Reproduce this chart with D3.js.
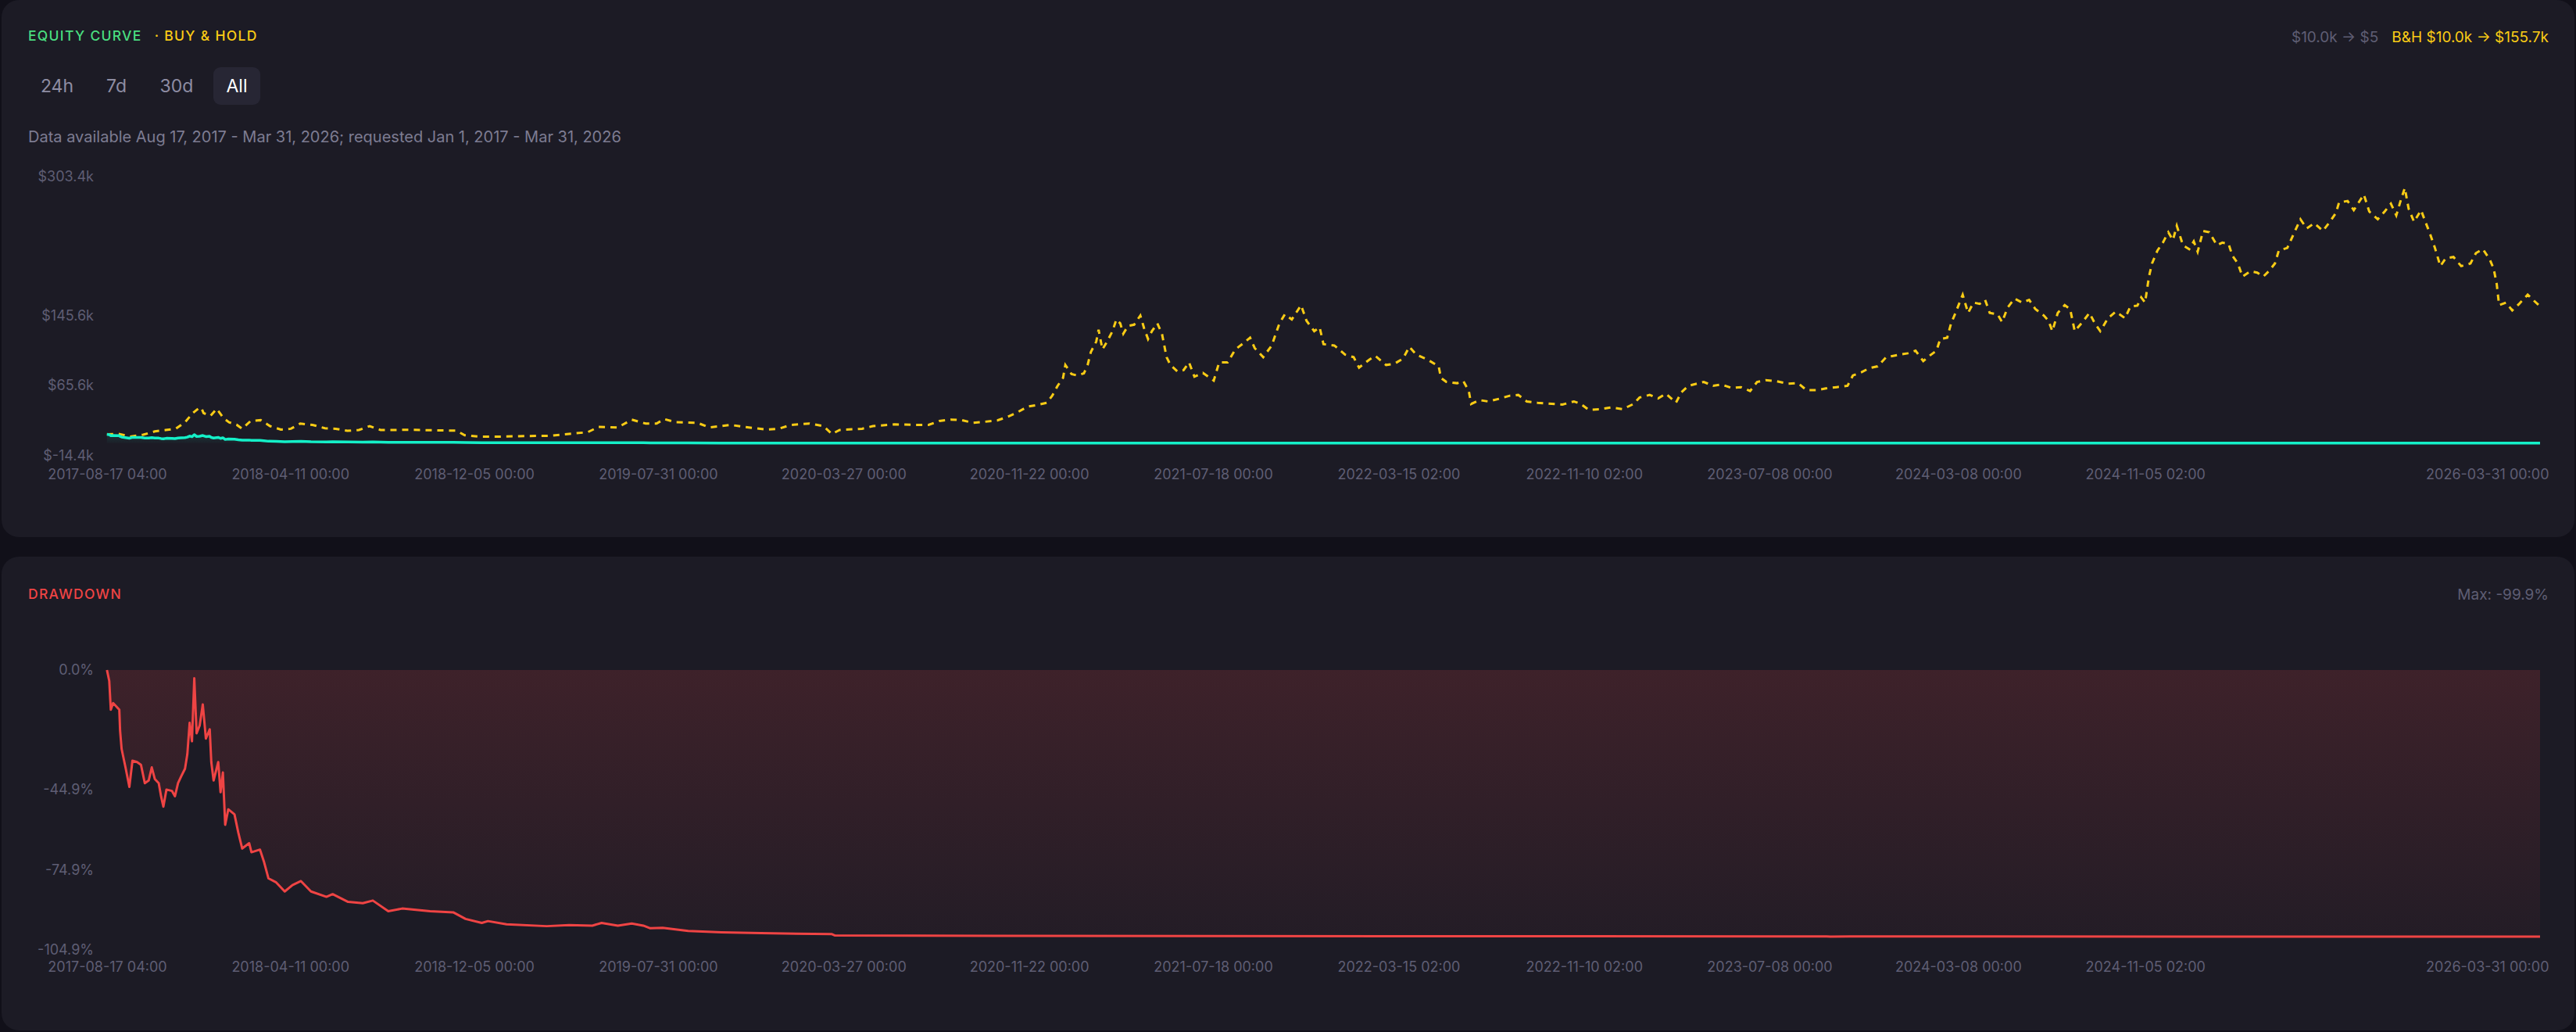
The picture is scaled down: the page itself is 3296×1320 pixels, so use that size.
<!DOCTYPE html>
<html>
<head>
<meta charset="utf-8">
<script src="https://cdn.jsdelivr.net/npm/d3@7"></script>
<style>
  html, body { margin: 0; padding: 0; background: #111019; }
  svg { display: block; font-family: "Inter", "Noto Sans", sans-serif; }
</style>
</head>
<body>
<svg id="chart"></svg>
<script>
const eqDates = ["2017-08-17","2017-08-20","2017-08-22","2017-08-25","2017-09-02","2017-09-03","2017-09-05","2017-09-10","2017-09-15","2017-09-19","2017-09-25","2017-09-30","2017-10-05","2017-10-10","2017-10-14","2017-10-18","2017-10-23","2017-10-26","2017-10-29","2017-11-02","2017-11-09","2017-11-13","2017-11-17","2017-11-21","2017-11-26","2017-11-29","2017-12-02","2017-12-05","2017-12-08","2017-12-11","2017-12-15","2017-12-19","2017-12-23","2017-12-28","2017-12-30","2018-01-02","2018-01-08","2018-01-11","2018-01-14","2018-01-17","2018-01-21","2018-01-29","2018-02-03","2018-02-08","2018-02-17","2018-02-20","2018-03-03","2018-03-08","2018-03-14","2018-03-24","2018-04-04","2018-04-14","2018-04-25","2018-05-08","2018-05-28","2018-06-05","2018-06-25","2018-07-14","2018-07-27","2018-08-16","2018-09-03","2018-10-09","2018-11-08","2018-11-24","2018-12-15","2018-12-23","2019-01-16","2019-03-09","2019-04-07","2019-05-07","2019-05-19","2019-06-09","2019-06-27","2019-07-12","2019-07-21","2019-08-06","2019-09-08","2019-10-21","2019-12-11","2020-03-12","2020-03-16","2020-10-16","2021-06-24","2022-10-14","2023-09-20","2023-09-25","2023-10-20","2024-04-23","2025-02-18","2026-03-31"];
const eqValues = [10000,9590,8510,8760,8510,7730,7040,6350,5620,6600,6550,6450,5760,5860,6350,5910,5760,5270,4880,5520,5470,5270,5760,6010,6300,6840,8020,7330,9690,7630,7920,8710,7430,7780,6550,5860,6550,5420,6160,4200,4780,4590,3900,3310,3510,3170,3270,2830,2190,2040,1700,1940,2090,1700,1500,1600,1310,1260,1360,960,1060,960,920,670,520,590,470,400,440,420,520,420,500,420,320,340,220,170,140,100,50,40,30,20,18,11,17,13,7,5];

// buy & hold in $
const bhDates = ["2017-08-17","2017-09-01","2017-09-16","2017-10-03","2017-10-18","2017-11-01","2017-11-14","2017-11-26","2017-12-06","2017-12-13","2017-12-17","2017-12-20","2017-12-29","2018-01-06","2018-01-15","2018-01-22","2018-02-01","2018-02-08","2018-02-19","2018-03-04","2018-03-16","2018-03-30","2018-04-12","2018-04-24","2018-05-10","2018-05-26","2018-06-09","2018-06-24","2018-07-09","2018-07-23","2018-08-06","2018-08-22","2018-09-09","2018-09-27","2018-10-15","2018-11-12","2018-11-23","2018-12-10","2019-01-08","2019-02-12","2019-03-12","2019-04-14","2019-05-01","2019-05-15","2019-06-09","2019-06-27","2019-07-15","2019-07-29","2019-08-08","2019-08-23","2019-09-20","2019-10-05","2019-11-02","2019-11-19","2019-12-18","2020-01-03","2020-01-19","2020-02-12","2020-03-01","2020-03-12","2020-03-22","2020-04-20","2020-05-04","2020-06-01","2020-06-30","2020-07-15","2020-07-29","2020-08-13","2020-08-27","2020-09-10","2020-09-26","2020-10-12","2020-10-26","2020-11-07","2020-11-20","2020-11-30","2020-12-15","2020-12-22","2020-12-29","2021-01-05","2021-01-08","2021-01-16","2021-01-23","2021-02-01","2021-02-06","2021-02-10","2021-02-17","2021-02-20","2021-02-25","2021-03-03","2021-03-10","2021-03-15","2021-03-20","2021-03-24","2021-03-30","2021-04-07","2021-04-15","2021-04-20","2021-04-25","2021-04-30","2021-05-07","2021-05-13","2021-05-19","2021-05-24","2021-06-02","2021-06-10","2021-06-17","2021-06-24","2021-07-05","2021-07-19","2021-07-26","2021-08-06","2021-08-16","2021-08-27","2021-09-04","2021-09-10","2021-09-21","2021-10-02","2021-10-12","2021-10-19","2021-10-28","2021-11-09","2021-11-16","2021-11-26","2021-12-03","2021-12-08","2021-12-22","2022-01-05","2022-01-16","2022-01-23","2022-02-05","2022-02-13","2022-02-27","2022-03-10","2022-03-21","2022-03-29","2022-04-07","2022-04-22","2022-05-06","2022-05-09","2022-05-16","2022-05-30","2022-06-07","2022-06-14","2022-06-17","2022-06-28","2022-07-09","2022-07-23","2022-08-06","2022-08-17","2022-08-28","2022-09-11","2022-09-25","2022-10-13","2022-10-28","2022-11-06","2022-11-16","2022-12-01","2022-12-15","2022-12-30","2023-01-13","2023-01-21","2023-02-03","2023-02-14","2023-02-24","2023-03-09","2023-03-16","2023-03-25","2023-04-14","2023-04-26","2023-05-07","2023-05-20","2023-06-01","2023-06-13","2023-06-22","2023-07-03","2023-07-17","2023-07-31","2023-08-14","2023-08-25","2023-09-07","2023-09-19","2023-10-03","2023-10-17","2023-10-24","2023-11-04","2023-11-14","2023-11-25","2023-12-06","2023-12-15","2023-12-23","2024-01-03","2024-01-13","2024-01-23","2024-01-31","2024-02-09","2024-02-14","2024-02-23","2024-02-28","2024-03-04","2024-03-10","2024-03-14","2024-03-21","2024-03-28","2024-04-05","2024-04-12","2024-04-18","2024-04-28","2024-05-04","2024-05-11","2024-05-20","2024-05-30","2024-06-08","2024-06-16","2024-06-27","2024-07-03","2024-07-08","2024-07-15","2024-07-24","2024-07-31","2024-08-06","2024-08-16","2024-08-25","2024-09-01","2024-09-08","2024-09-18","2024-09-28","2024-10-10","2024-10-17","2024-10-26","2024-10-31","2024-11-05","2024-11-10","2024-11-14","2024-11-21","2024-11-28","2024-12-05","2024-12-11","2024-12-16","2024-12-24","2025-01-01","2025-01-07","2025-01-12","2025-01-19","2025-01-27","2025-02-06","2025-02-13","2025-02-21","2025-02-26","2025-03-05","2025-03-11","2025-03-21","2025-03-30","2025-04-07","2025-04-14","2025-04-22","2025-04-27","2025-05-08","2025-05-18","2025-05-25","2025-06-02","2025-06-12","2025-06-23","2025-07-02","2025-07-10","2025-07-14","2025-07-25","2025-08-02","2025-08-15","2025-08-22","2025-09-02","2025-09-11","2025-09-19","2025-09-26","2025-10-02","2025-10-07","2025-10-12","2025-10-19","2025-10-28","2025-11-04","2025-11-08","2025-11-15","2025-11-22","2025-11-29","2025-12-09","2025-12-19","2025-12-31","2026-01-07","2026-01-16","2026-01-25","2026-01-30","2026-02-03","2026-02-06","2026-02-15","2026-02-23","2026-03-04","2026-03-15","2026-03-22","2026-03-31"];
const bhValues = [10000,10500,7500,9600,13400,15000,16400,23800,34200,39200,40500,34200,31200,39200,28300,23800,20800,16400,25300,26200,19400,15500,16400,22300,20800,17000,16400,14000,15000,19400,15000,15000,15200,15000,14600,14300,9000,7500,7500,8100,8400,11100,12500,18500,17900,26800,22300,22300,27400,23800,23200,17900,20800,18500,15500,16400,20800,22300,19400,10500,15000,16400,19400,21400,20800,20800,25300,26800,26200,23200,24400,25900,30300,35100,41600,43100,46000,54000,65300,74200,89000,78600,77100,79500,89600,103800,115700,129000,106800,115700,127500,140800,136400,124600,133400,134900,145300,130500,118600,127500,136400,124600,97900,89000,81600,83100,92000,75700,80000,71200,92000,92000,106800,114200,120100,108300,97900,111200,136400,146800,140800,157100,139400,127500,132000,112700,111200,100800,97900,86000,94900,99400,89000,90500,96400,109700,100800,94900,87500,74200,69700,68300,70600,59400,44600,49000,47500,50500,54000,54900,47500,46000,45100,43900,47500,44600,38000,38600,40700,38600,44600,52000,54900,51000,56400,46000,57900,65300,69700,65300,66800,62900,63800,59400,69700,71800,70600,67700,68300,60300,60300,62300,63800,65300,77100,80700,85400,87500,97900,99400,100800,102300,105300,93400,99400,105300,118600,120100,136400,146800,160100,169000,148300,160100,158600,163100,148300,146800,137900,154200,164600,160100,163100,152700,145300,139400,127500,148300,157100,152700,127500,137900,148300,136400,127500,142300,149700,142300,155700,156600,166000,160100,189700,204600,219400,228300,240100,231200,247500,225300,220900,229700,217900,241600,240100,225300,228300,226800,213400,204600,189700,195700,194200,189700,195700,204600,219400,222300,241600,254900,244500,250500,241600,252000,262300,274200,275700,265300,283100,263800,254900,263800,272700,259400,277100,290500,266800,252000,265300,249000,240100,222300,201600,210500,212000,201600,204600,216400,220900,209000,198600,180800,157100,160100,151200,158600,169000,163100,155700];

// axis labels
const timeTicks = ["2017-08-17 04:00","2018-04-11 00:00","2018-12-05 00:00","2019-07-31 00:00","2020-03-27 00:00","2020-11-22 00:00","2021-07-18 00:00","2022-03-15 02:00","2022-11-10 02:00","2023-07-08 00:00","2024-03-08 00:00","2024-11-05 02:00","2026-03-31 00:00"];
const equityTicks = [-14400, 65600, 145600, 303400];
const drawdownTicks = [0, -44.9, -74.9, -104.9];
const rangeButtons = ["24h", "7d", "30d", "All"];

const W = 3296, H = 1320;
const C = {
  panel: "#1c1b25", text: "#5f5e74", sub: "#7d7c92",
  green: "#4ade80", yellow: "#facc15", teal: "#14f0c8", red: "#ef4444"
};

const parseDay = d3.timeParse("%Y-%m-%d");
const parseTick = d3.timeParse("%Y-%m-%d %H:%M");
const fmtTick = d3.timeFormat("%Y-%m-%d %H:%M");
const fmtMoney = v => v >= 1000 ? "$" + (v / 1000).toFixed(1) + "k" : "$" + Math.round(v);

const equity = eqDates.map((d, i) => ({ date: parseDay(d), value: eqValues[i] }));
const bh = bhDates.map((d, i) => ({ date: parseDay(d), value: bhValues[i] }));

// drawdown from running peak of the equity curve
let peak = -Infinity;
const drawdown = equity.map(d => {
  peak = Math.max(peak, d.value);
  return { date: d.date, value: (d.value / peak - 1) * 100 };
});

const svg = d3.select("#chart").attr("width", W).attr("height", H);

// panels
svg.append("rect").attr("x", 2).attr("y", 0).attr("width", 3292).attr("height", 687)
  .attr("rx", 22).attr("fill", C.panel);
svg.append("rect").attr("x", 2).attr("y", 712).attr("width", 3292).attr("height", 606)
  .attr("rx", 22).attr("fill", C.panel);

const tickDates = timeTicks.map(parseTick);
const x = d3.scaleTime()
  .domain([tickDates[0], tickDates[tickDates.length - 1]])
  .range([137, 3250]);

function xAxis(yPos) {
  const g = svg.append("g")
    .attr("transform", `translate(0,${yPos})`)
    .call(d3.axisBottom(x).tickValues(tickDates).tickFormat(fmtTick).tickSize(0).tickPadding(0));
  g.select(".domain").remove();
  g.selectAll("text")
    .attr("y", 0).attr("dy", "0.35em")
    .attr("fill", C.text).attr("font-size", 18).attr("font-family", "Inter");
  // last label is pulled inside the panel
  g.selectAll(".tick").filter((d, i) => i === tickDates.length - 1)
    .select("text").attr("text-anchor", "end").attr("dx", 11);
}

function yAxis(scale, ticks, fmt) {
  const g = svg.append("g")
    .attr("transform", "translate(120,0)")
    .call(d3.axisLeft(scale).tickValues(ticks).tickFormat(fmt).tickSize(0).tickPadding(0));
  g.select(".domain").remove();
  g.selectAll("text").attr("fill", C.text).attr("font-size", 18).attr("font-family", "Inter");
}

// ---------- header of equity panel ----------
const title = svg.append("text").attr("x", 36).attr("y", 46).attr("dy", "0.35em")
  .attr("font-size", 17.5).attr("letter-spacing", 1.3).attr("font-weight", 500);
title.append("tspan").attr("fill", C.green).text("EQUITY CURVE");
title.append("tspan").attr("fill", C.yellow).attr("dx", 16).text("· BUY & HOLD");

const summary = svg.append("text").attr("x", 3261).attr("y", 47).attr("dy", "0.35em")
  .attr("text-anchor", "end").attr("font-size", 19);
summary.append("tspan").attr("fill", C.text)
  .text(`${fmtMoney(eqValues[0])} → ${fmtMoney(eqValues[eqValues.length - 1])}`);
summary.append("tspan").attr("fill", C.yellow).attr("dx", 17)
  .text(`B&H ${fmtMoney(bhValues[0])} → ${fmtMoney(bhValues[bhValues.length - 1])}`);

const btnX = [73, 149, 226, 303];
rangeButtons.forEach((b, i) => {
  if (b === "All") {
    svg.append("rect").attr("x", btnX[i] - 30).attr("y", 86).attr("width", 60).attr("height", 48)
      .attr("rx", 9).attr("fill", "#272634");
  }
  svg.append("text").attr("x", btnX[i]).attr("y", 110).attr("dy", "0.35em")
    .attr("text-anchor", "middle").attr("font-size", 23)
    .attr("fill", b === "All" ? "#ffffff" : "#8e8da3").text(b);
});

svg.append("text").attr("x", 36).attr("y", 175).attr("dy", "0.35em")
  .attr("font-size", 20).attr("fill", C.sub)
  .text("Data available Aug 17, 2017 - Mar 31, 2026; requested Jan 1, 2017 - Mar 31, 2026");

// ---------- equity chart ----------
const y1 = d3.scaleLinear().domain([equityTicks[0], equityTicks[3]]).range([583, 226]);

yAxis(y1, equityTicks, v => "$" + (v / 1000).toFixed(1) + "k");
xAxis(607);

const defs = svg.append("defs");
const tg = defs.append("linearGradient").attr("id", "tealFill")
  .attr("x1", 0).attr("x2", 0).attr("y1", 0).attr("y2", 1);
tg.append("stop").attr("offset", "0%").attr("stop-color", C.teal).attr("stop-opacity", 0.12);
tg.append("stop").attr("offset", "100%").attr("stop-color", C.teal).attr("stop-opacity", 0.02);

svg.append("path").datum(equity)
  .attr("fill", "url(#tealFill)")
  .attr("d", d3.area().x(d => x(d.date)).y0(y1(0)).y1(d => y1(d.value)));

svg.append("path").datum(bh)
  .attr("fill", "none").attr("stroke", C.yellow).attr("stroke-width", 3)
  .attr("stroke-dasharray", "8 7")
  .attr("d", d3.line().x(d => x(d.date)).y(d => y1(d.value)));

svg.append("path").datum(equity)
  .attr("fill", "none").attr("stroke", C.teal).attr("stroke-width", 3.5)
  .attr("stroke-linejoin", "round")
  .attr("d", d3.line().x(d => x(d.date)).y(d => y1(d.value)));

// ---------- drawdown panel ----------
svg.append("text").attr("x", 36).attr("y", 760).attr("dy", "0.35em")
  .attr("font-size", 17.5).attr("letter-spacing", 1.3).attr("font-weight", 500)
  .attr("fill", C.red).text("DRAWDOWN");

const maxDD = d3.min(drawdown, d => d.value);
svg.append("text").attr("x", 3261).attr("y", 760).attr("dy", "0.35em")
  .attr("text-anchor", "end").attr("font-size", 19).attr("fill", C.text)
  .text(`Max: ${(Math.trunc(maxDD * 10) / 10).toFixed(1)}%`);

const y2 = d3.scaleLinear().domain([drawdownTicks[3], 0]).range([1215, 857]);

yAxis(y2, drawdownTicks, v => v.toFixed(1) + "%");
xAxis(1237);

const rg = defs.append("linearGradient").attr("id", "redFill")
  .attr("gradientUnits", "userSpaceOnUse")
  .attr("x1", 0).attr("x2", 0).attr("y1", y2(0)).attr("y2", y2(-104.9));
rg.append("stop").attr("offset", "0%").attr("stop-color", C.red).attr("stop-opacity", 0.16);
rg.append("stop").attr("offset", "100%").attr("stop-color", C.red).attr("stop-opacity", 0.03);

svg.append("path").datum(drawdown)
  .attr("fill", "url(#redFill)")
  .attr("d", d3.area().x(d => x(d.date)).y0(y2(0)).y1(d => y2(d.value)));

svg.append("path").datum(drawdown)
  .attr("fill", "none").attr("stroke", C.red).attr("stroke-width", 3)
  .attr("stroke-linejoin", "round")
  .attr("d", d3.line().x(d => x(d.date)).y(d => y2(d.value)));
</script>
</body>
</html>
